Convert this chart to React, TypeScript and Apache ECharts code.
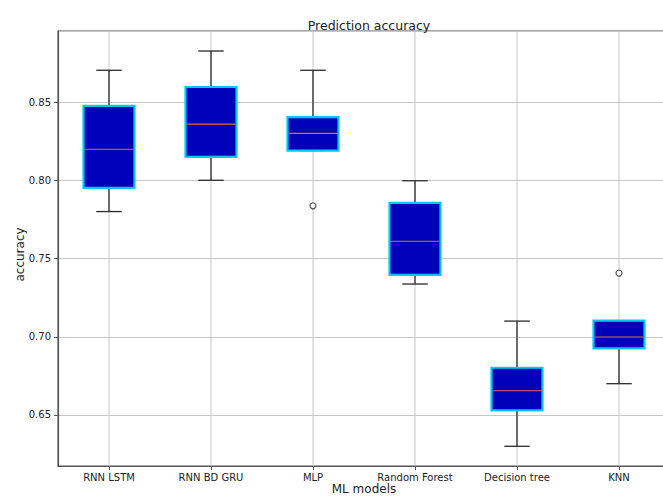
import React, { useEffect, useRef } from "react";
import * as echarts from "echarts";

const categories = ["RNN LSTM", "RNN BD GRU", "MLP", "Random Forest", "Decision tree", "KNN"];
const whiskerLow = [0.78, 0.8, 0.819, 0.7337, 0.63, 0.67];
const q1 = [0.7952, 0.8149, 0.8189, 0.7395, 0.653, 0.6926];
const median = [0.8198, 0.8359, 0.83, 0.761, 0.6655, 0.6998];
const q3 = [0.8476, 0.8596, 0.8404, 0.7855, 0.6802, 0.7103];
const whiskerHigh = [0.8703, 0.8826, 0.8703, 0.7997, 0.71, 0.7103];
const outliers: [number, number][] = [
  [2, 0.7837],
  [5, 0.7407],
];
const yMin = 0.6174;
const yMax = 0.8954;

export default function App() {
  const ref = useRef<HTMLDivElement>(null);
  useEffect(() => {
    document.body.style.margin = "0";
    if (!ref.current) return;
    const chart = echarts.init(ref.current, null, { renderer: "svg" });
    const font = "DejaVu Sans";
    const boxData = categories.map((_, i) => [i, whiskerLow[i], q1[i], median[i], q3[i], whiskerHigh[i]]);
    chart.setOption({
      animation: false,
      backgroundColor: "#ffffff",
      title: {
        text: "Prediction accuracy",
        left: 364,
        top: 14,
        textAlign: "center",
        textStyle: { fontFamily: font, fontSize: 12.5, fontWeight: "normal", color: "#222" },
      },
      grid: {
        left: 58,
        top: 31,
        width: 612,
        height: 435,
        containLabel: false,
        outerBoundsMode: "none",
        show: true,
        borderColor: "#555",
        borderWidth: 1.2,
        backgroundColor: "transparent",
      },
      xAxis: {
        type: "category",
        data: categories,
        boundaryGap: true,
        name: "ML models",
        nameLocation: "middle",
        nameGap: 17,
        nameMoveOverlap: false,
        nameTextStyle: { fontFamily: font, fontSize: 12, lineHeight: 12, color: "#222" },
        axisLine: { show: true, lineStyle: { color: "#555", width: 1.2 } },
        axisTick: { show: true, alignWithLabel: true, length: 4, lineStyle: { color: "#555" } },
        axisLabel: { fontFamily: font, fontSize: 10, color: "#222", margin: 6 },
        splitLine: { show: false },
      },
      yAxis: {
        type: "value",
        min: yMin,
        max: yMax,
        splitNumber: 5,
        name: "accuracy",
        nameLocation: "middle",
        nameGap: 32,
        nameMoveOverlap: false,
        nameTextStyle: { fontFamily: font, fontSize: 12, color: "#222", padding: [0, 12, 0, 0] },
        axisLine: { show: true, lineStyle: { color: "#555", width: 1.2 } },
        axisTick: { show: true, length: 4, lineStyle: { color: "#555" } },
        axisLabel: {
          fontFamily: font,
          fontSize: 10,
          color: "#222",
          margin: 7,
          showMinLabel: false,
          showMaxLabel: false,
          formatter: (v: number) => v.toFixed(2),
        },
        splitLine: { show: true, lineStyle: { color: "#c6c6c6", width: 1 } },
      },
      series: [
        {
          type: "custom",
          data: boxData,
          encode: { x: 0, y: [1, 2, 3, 4, 5] },
          renderItem: (params: any, api: any) => {
            const i = api.value(0);
            const pLo = api.coord([i, api.value(1)]);
            const pQ1 = api.coord([i, api.value(2)]);
            const pMed = api.coord([i, api.value(3)]);
            const pQ3 = api.coord([i, api.value(4)]);
            const pHi = api.coord([i, api.value(5)]);
            const band = api.size([1, 0])[0];
            const bw = band * 0.5;
            const cw = band * 0.25;
            const x = pQ1[0];
            const cs = params.coordSys;
            const wStyle = { stroke: "#2a2a2a", lineWidth: 1.3 };
            return {
              type: "group",
              children: [
                {
                  type: "line",
                  shape: { x1: x, y1: cs.y, x2: x, y2: cs.y + cs.height },
                  style: { stroke: "#c6c6c6", lineWidth: 1 },
                },
                { type: "line", shape: { x1: x, y1: pQ3[1], x2: x, y2: pHi[1] }, style: wStyle },
                { type: "line", shape: { x1: x, y1: pQ1[1], x2: x, y2: pLo[1] }, style: wStyle },
                { type: "line", shape: { x1: x - cw / 2, y1: pHi[1], x2: x + cw / 2, y2: pHi[1] }, style: wStyle },
                { type: "line", shape: { x1: x - cw / 2, y1: pLo[1], x2: x + cw / 2, y2: pLo[1] }, style: wStyle },
                {
                  type: "rect",
                  shape: { x: x - bw / 2, y: pQ3[1], width: bw, height: pQ1[1] - pQ3[1] },
                  style: { fill: "#0000bb", stroke: "#00c8f5", lineWidth: 2.2 },
                },
                {
                  type: "line",
                  shape: { x1: x - bw / 2 + 1, y1: pMed[1], x2: x + bw / 2 - 1, y2: pMed[1] },
                  style: { stroke: "#ee6a2a", lineWidth: 1.1 },
                },
              ],
            };
          },
        },
        {
          type: "scatter",
          data: outliers,
          symbol: "circle",
          symbolSize: 6,
          itemStyle: { color: "#ffffff", borderColor: "#2a2a2a", borderWidth: 1.2 },
        },
      ],
    });
    return () => chart.dispose();
  }, []);
  return <div ref={ref} style={{ position: "absolute", left: 0, top: 0, width: 663, height: 498 }} />;
}
